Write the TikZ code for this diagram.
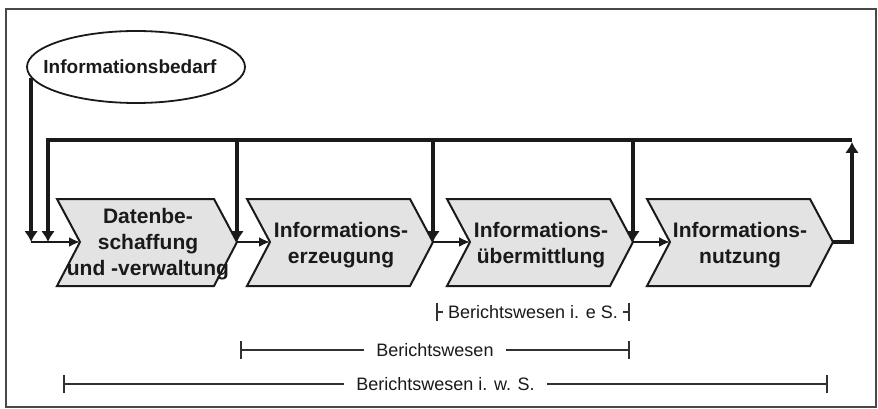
\documentclass[tikz,border=0pt]{standalone}
\usepackage{fontspec}
\setmainfont{Liberation Sans}
\usetikzlibrary{arrows.meta,shapes.geometric}
\definecolor{ink}{HTML}{1A1A1A}
\definecolor{chevfill}{HTML}{E3E3E3}
\newcommand\mkchev[3]{%
  \draw[chev] (#2,199) -- ++(#3-23,0) -- ++(23,43) -- ++(-23,44) -- ++(-#3+23,0) -- ++(23,-44) -- cycle;
  \coordinate (#1notch) at (#2+23,242);
  \coordinate (#1tip) at (#2+#3,242);}
\begin{document}
\begin{tikzpicture}[x=1pt,y=-1pt,
  conn/.style={line width=3.6pt,draw=ink,line join=miter},
  hconn/.style={line width=2.8pt,draw=ink,-{Latex[length=11pt,width=10pt]}},
  vconn/.style={line width=4pt,draw=ink,line join=miter,-{Latex[length=11pt,width=14pt]}},
  chev/.style={draw=ink,line width=2pt,fill=chevfill,line join=miter},
  clbl/.style={font=\fontsize{21}{26}\selectfont\bfseries,align=center,text=ink,inner sep=0pt},
  brk/.style={line width=1.7pt,draw=ink!90,{Bar[width=18pt]}-{Bar[width=18pt]}},
  blbl/.style={font=\fontsize{18}{20}\selectfont,fill=white,text=ink,inner ysep=2pt}]
\useasboundingbox (0,0) rectangle (878,409);
\draw[line width=1.8pt,draw=ink!80] (6,9) rectangle (876,407);

% chevrons
\mkchev{c1}{57}{180}
\mkchev{c2}{247}{186}
\mkchev{c3}{447}{186}
\mkchev{c4}{647}{186}
\node[clbl] (n1) at (148,244) {Datenbe-\\schaffung\\und -verwaltung};
\node[clbl] (n2) at (341,245) {Informations-\\erzeugung};
\node[clbl] (n3) at (541,245) {Informations-\\übermittlung};
\node[clbl] (n4) at (740,245) {Informations-\\nutzung};

% ellipse
\node[ellipse,draw=ink,line width=1.8pt,minimum width=218pt,minimum height=72pt,inner sep=0pt] (bedarf) at (136,67) {};
\node[font=\fontsize{19}{22}\selectfont\bfseries,text=ink,inner sep=0pt] (bedarftxt) at ([xshift=-6pt]bedarf.center) {Informationsbedarf};

% connectors
\coordinate (lt) at (48,140);
\coordinate (rt) at (852,140);
\draw[vconn] (bedarf.186) -- (bedarf.186 |- c1notch);
\draw[hconn] (bedarf.186 |- c1notch) -- (c1notch);
\draw[vconn] (rt) -- (lt) -- (lt |- c1notch);
\draw[conn,-{Latex[length=11pt,width=14pt]}] (c4tip) -- (c4tip -| rt) -- ([yshift=-2pt]rt);
\draw[vconn] (c1tip |- lt) -- (c1tip);
\draw[vconn] (c2tip |- lt) -- (c2tip);
\draw[vconn] (c3tip |- lt) -- (c3tip);
\draw[hconn] (c1tip) -- (c2notch);
\draw[hconn] (c2tip) -- (c3notch);
\draw[hconn] (c3tip) -- (c4notch);

% brackets
\coordinate (b1l) at (436,312); \coordinate (b1r) at (630,312);
\coordinate (b2l) at (240,350); \coordinate (b2r) at (630,350);
\coordinate (b3l) at (63,384);  \coordinate (b3r) at (828,384);
\draw[brk] (b1l) -- node[blbl,inner xsep=5pt] (t1) {Berichtswesen i. e S.} (b1r);
\draw[brk] (b2l) -- node[blbl,inner xsep=12pt] (t2) {Berichtswesen} (b2r);
\draw[brk] (b3l) -- node[blbl,inner xsep=12pt] (t3) {Berichtswesen i. w. S.} (b3r);
\end{tikzpicture}
\end{document}
